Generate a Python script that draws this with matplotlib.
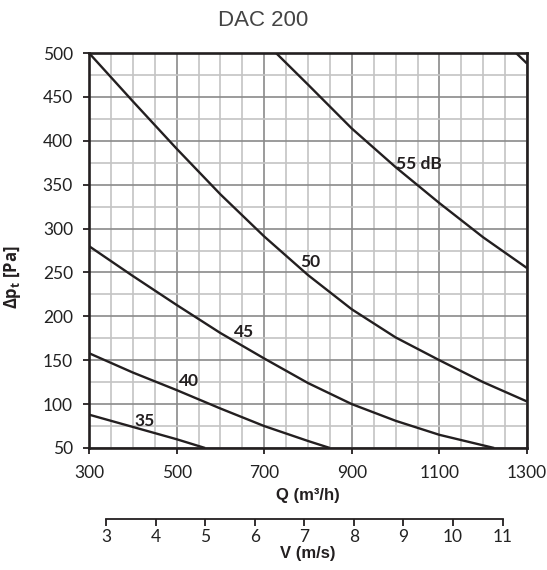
import numpy as np
import matplotlib
matplotlib.use("Agg")
import matplotlib.pyplot as plt
from matplotlib.ticker import MultipleLocator, FixedLocator

plt.rcParams['mathtext.fontset'] = 'custom'
plt.rcParams['mathtext.rm'] = 'Open Sans:bold'
plt.rcParams['mathtext.it'] = 'Open Sans:bold'
plt.rcParams['mathtext.bf'] = 'Open Sans:bold'

# sound power curves, Q in m3/h vs total pressure drop in Pa
q35 = [300, 400, 500, 565]
p35 = [88, 74, 60, 50]
q40 = [300, 400, 500, 600, 700, 800, 850]
p40 = [158, 136, 116, 95, 75, 58, 50]
q45 = [300, 400, 500, 600, 700, 800, 900, 1000, 1100, 1200, 1225]
p45 = [280, 246, 213, 181, 152, 124, 100, 81, 65, 53, 50]
q50 = [300, 400, 500, 600, 700, 800, 900, 1000, 1100, 1200, 1300]
p50 = [500, 445, 391, 339, 291, 247, 208, 176, 150, 125, 103]
q55 = [727, 800, 900, 1000, 1100, 1200, 1300]
p55 = [500, 464, 414, 370, 329, 290, 255]
q60 = [1275, 1300]
p60 = [500, 488]

curves = [(q35, p35), (q40, p40), (q45, p45), (q50, p50), (q55, p55), (q60, p60)]

labels = ["35", "40", "45", "50", "55 dB"]
label_q = [428, 529, 655, 805, 1052]
label_p = [81, 126, 182, 262, 374]

q_ticks = [300, 500, 700, 900, 1100, 1300]
v_ticks = [3, 4, 5, 6, 7, 8, 9, 10, 11]
duct_area = np.pi * 0.1 ** 2  # DAC 200 -> 200 mm duct

dark = '#231f20'

fig = plt.figure(figsize=(5.47, 5.70), dpi=100)
ax = fig.add_axes([89 / 547, 1 - 448 / 570, 438 / 547, 395 / 570])

ax.set_xlim(300, 1300)
ax.set_ylim(50, 500)
ax.xaxis.set_major_locator(FixedLocator(q_ticks))
ax.xaxis.set_minor_locator(MultipleLocator(50))
ax.yaxis.set_major_locator(MultipleLocator(50))
ax.yaxis.set_minor_locator(MultipleLocator(25))
ax.grid(which='minor', color='#c4c4c4', lw=1.2)
ax.grid(which='major', color='#8a8a8a', lw=1.2)
ax.set_axisbelow(True)

for q, p in curves:
    ax.plot(q, p, color=dark, lw=1.7, solid_capstyle='butt')

for txt, q, p in zip(labels, label_q, label_p):
    ax.text(q, p, txt, ha='center', va='center', fontsize=12.5,
            family='Lato', weight='bold', color=dark)

for s in ax.spines.values():
    s.set_linewidth(1.9)
    s.set_color(dark)

ax.tick_params(which='minor', length=0)
ax.tick_params(which='major', direction='out', length=4.5, width=1.3,
               color=dark, labelsize=12.5, labelcolor='#222222')
ax.tick_params(axis='x', pad=8)
ax.tick_params(axis='y', pad=7)
for lab in ax.get_xticklabels() + ax.get_yticklabels():
    lab.set_family('Lato')

ax.set_xlabel('Q (m³/h)', family='Liberation Sans', weight='bold',
              fontsize=12, labelpad=5, color=dark)
ax.set_ylabel(r'$\Delta p_t$ [Pa]', family='Open Sans', weight='bold',
              fontsize=12, color=dark)
ax.yaxis.set_label_coords(-0.15, 0.433)

fig.text(263 / 547, 1 - 20 / 570, 'DAC 200', ha='center', va='center',
         family='Liberation Sans', fontsize=16, color='#444444')

# velocity scale under the flow axis
ax2 = fig.add_axes([89 / 547, 1 - 519 / 570, 438 / 547, 0.0001])
ax2.set_xlim(300, 1300)
ax2.patch.set_visible(False)
for k in ['top', 'left', 'right']:
    ax2.spines[k].set_visible(False)
vq = [v * duct_area * 3600 for v in v_ticks]
ax2.spines['bottom'].set_bounds(vq[0], vq[-1])
ax2.spines['bottom'].set_linewidth(1.3)
ax2.spines['bottom'].set_color(dark)
ax2.set_yticks([])
ax2.set_xticks(vq)
ax2.set_xticklabels([str(v) for v in v_ticks])
ax2.tick_params(axis='x', direction='out', length=5, width=1.3, color=dark,
                labelsize=12.5, labelcolor='#222222', pad=2)
for lab in ax2.get_xticklabels():
    lab.set_family('Lato')
ax2.set_xlabel('V (m/s)', family='Liberation Sans', weight='bold',
               fontsize=12, labelpad=1, color=dark)

fig.savefig('out.png', dpi=100)
